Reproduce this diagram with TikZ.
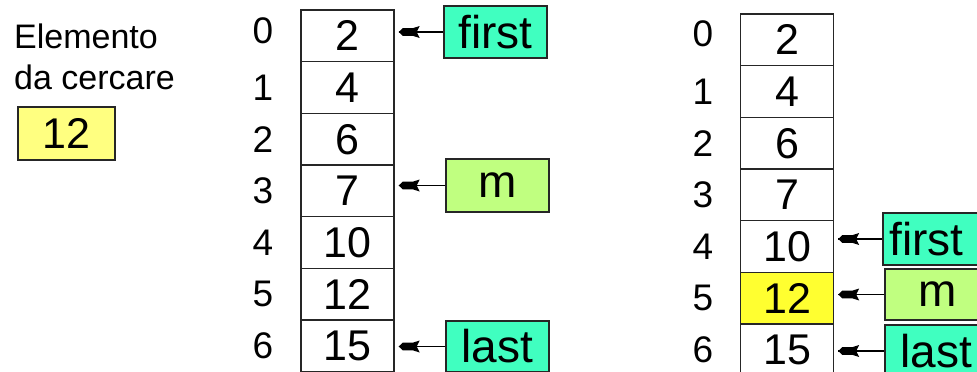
\documentclass[tikz,border=0pt]{standalone}
\usepackage{fontspec}
\setmainfont{Liberation Sans}
\definecolor{ptrcol}{HTML}{40FFC0}
\definecolor{midcol}{HTML}{C0FF80}
\definecolor{hitcol}{HTML}{FFFF30}
\definecolor{keycol}{HTML}{FFFF80}
\tikzset{
  cell/.style={draw=black!85, line width=1.4pt, minimum width=93pt, minimum height=51.7pt, inner sep=0pt, font=\fontsize{43}{43}\selectfont},
  idx/.style={inner sep=0pt, font=\fontsize{37}{37}\selectfont},
  ptr/.style={draw=black!85, line width=1.4pt, minimum width=103pt, inner sep=0pt, font=\fontsize{46}{46}\selectfont},
  conn/.style={line width=1.1pt},
  tip/.style={fill=black}
}
\newcommand{\ptrarrow}[2]{%
  \coordinate (#1tip) at ([xshift=4pt]#1.west -| #2.east);
  \draw[conn] (#1.west) -- (#1tip);
  \fill[tip] (#1tip) -- ++(4,-3.8) -- ++(10,0) -- ++(7,-2.2) -- ++(-3,6) -- ++(3,6) -- ++(-7,-2.2) -- ++(-10,0) -- cycle;
}
\begin{document}
\begin{tikzpicture}[x=1pt,y=-1pt]
\useasboundingbox (0,0) rectangle (977,372);
% search key
\node[anchor=base west, inner sep=0pt, font=\fontsize{34}{34}\selectfont] (t1) at (14,48) {Elemento};
\node[anchor=base west, inner sep=0pt, font=\fontsize{34}{34}\selectfont] (t2) at (14,89) {da cercare};
\node[draw=black!85, line width=1.4pt, fill=keycol, minimum width=97pt, minimum height=53pt, inner sep=0pt, font=\fontsize{43}{43}\selectfont] (key) at (66.5,133.5) {12};
% left array
\foreach \v [count=\i from 0] in {2,4,6,7,10,12,15} {
  \node[cell] (L\i) at (347.5,{35.8+51.7*\i}) {\v};
  \ifnum\i=0
    \node[idx] (LI\i) at (263,{31+51.7*\i}) {\i};
  \else
    \node[idx] (LI\i) at (263,{35.8+51.7*\i}) {\i};
  \fi
}
% right array
\foreach \v [count=\i from 0] in {2,4,6,7,10,12,15} {
  \ifnum\i=5
    \node[cell, fill=hitcol] (R\i) at (787,{39.8+51.7*\i}) {\v};
  \else
    \node[cell] (R\i) at (787,{39.8+51.7*\i}) {\v};
  \fi
  \ifnum\i=0
    \node[idx] (RI\i) at (703,{34+51.7*\i}) {\i};
  \else
    \node[idx] (RI\i) at (703,{39.8+51.7*\i}) {\i};
  \fi
}
% left pointers
\node[ptr, fill=ptrcol, minimum height=52pt] (fL) at (495.5,32) {first};
\node[ptr, fill=midcol, minimum height=53pt] (mL) at (497.5,185.5) {m};
\node[ptr, fill=ptrcol, minimum height=51pt] (lL) at (497.5,346.5) {last};
\ptrarrow{fL}{L0}
\ptrarrow{mL}{L3}
\ptrarrow{lL}{L6}
% right pointers
\node[ptr, fill=ptrcol, minimum height=52pt, text width=90pt, align=left] (fR) at (934.5,239) {\hspace*{0pt}first};
\node[ptr, fill=midcol, minimum height=51pt, text width=90pt, align=left] (mR) at (936.5,294.5) {\hspace*{27pt}m};
\node[ptr, fill=ptrcol, minimum height=52pt, text width=90pt, align=left] (lR) at (936.5,351) {\hspace*{9pt}last};
\ptrarrow{fR}{R4}
\ptrarrow{mR}{R5}
\ptrarrow{lR}{R6}
\end{tikzpicture}
\end{document}
